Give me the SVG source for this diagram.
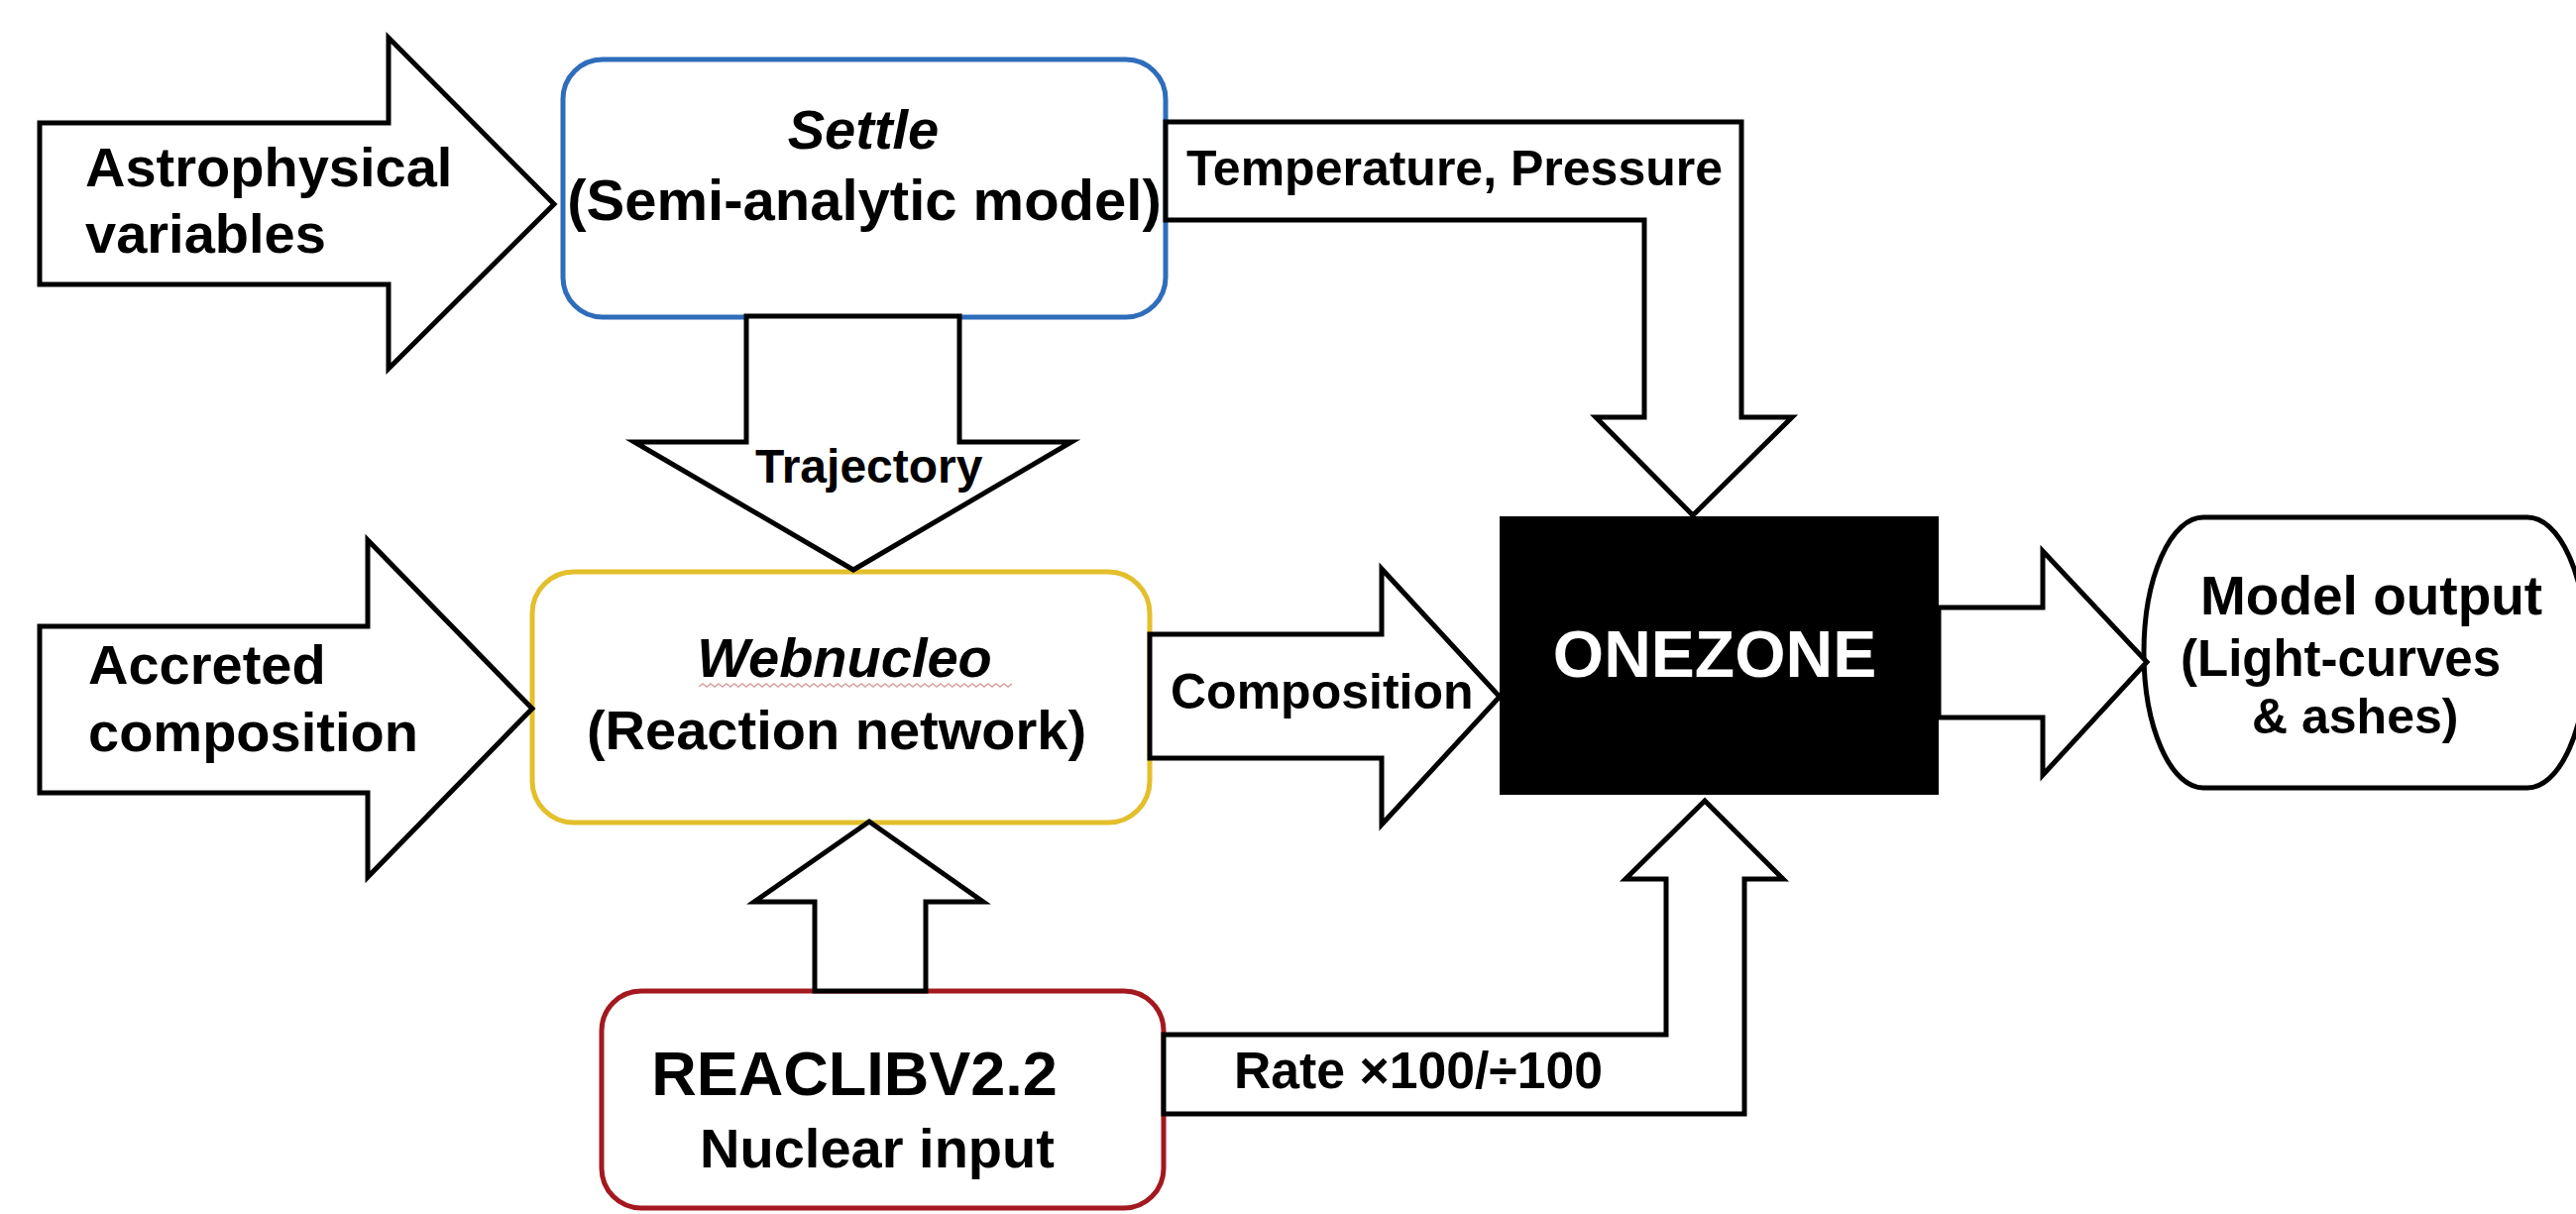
<svg xmlns="http://www.w3.org/2000/svg" width="2599" height="1225" viewBox="0 0 2599 1225">
<style>
.t{font-family:"Liberation Sans",Arial,sans-serif;font-weight:bold;fill:#000}
.c{text-anchor:middle}
.i{font-style:italic}
.arr{fill:#fff;stroke:#000;stroke-width:5;stroke-linejoin:miter}
.box{fill:#fff;stroke-width:5}
</style>
<rect width="2599" height="1225" fill="#fff"/>
<g id="settle">
<rect class="box" x="568" y="60" width="608" height="260" rx="40" stroke="#2f6dbb"/>
<text class="t c i" x="871" y="150" font-size="56">Settle</text>
<text class="t c" x="872" y="222" font-size="58">(Semi-analytic model)</text>
</g>
<g id="webnucleo">
<rect class="box" x="537" y="577" width="623" height="253" rx="42" stroke="#e3bf2c"/>
<text class="t c i" x="852" y="683" font-size="56">Webnucleo</text>
<path d="M705,693 l4,-3 l4,3 l4,-3 l4,3 l4,-3 l4,3 l4,-3 l4,3 l4,-3 l4,3 l4,-3 l4,3 l4,-3 l4,3 l4,-3 l4,3 l4,-3 l4,3 l4,-3 l4,3 l4,-3 l4,3 l4,-3 l4,3 l4,-3 l4,3 l4,-3 l4,3 l4,-3 l4,3 l4,-3 l4,3 l4,-3 l4,3 l4,-3 l4,3 l4,-3 l4,3 l4,-3 l4,3 l4,-3 l4,3 l4,-3 l4,3 l4,-3 l4,3 l4,-3 l4,3 l4,-3 l4,3 l4,-3 l4,3 l4,-3 l4,3 l4,-3 l4,3 l4,-3 l4,3 l4,-3 l4,3 l4,-3 l4,3 l4,-3 l4,3 l4,-3 l4,3 l4,-3 l4,3 l4,-3 l4,3 l4,-3 l4,3 l4,-3 l4,3 l4,-3 l4,3 l4,-3 l4,3 l4,-3" fill="none" stroke="#d9a0a0" stroke-width="1.5"/>
<text class="t c" x="844" y="756" font-size="56">(Reaction network)</text>
</g>
<g id="reaclib">
<rect class="box" x="607" y="1000" width="567" height="219" rx="40" stroke="#a3191f"/>
<text class="t c" x="862" y="1105" font-size="63">REACLIBV2.2</text>
<text class="t c" x="885" y="1178" font-size="56">Nuclear input</text>
</g>
<g id="onezone">
<rect x="1513" y="521" width="443" height="281" fill="#000"/>
<text class="t c" x="1730" y="683" font-size="66" style="fill:#fff">ONEZONE</text>
</g>
<g id="model-output">
<path d="M2223,522 H2550 A60,136.5 0 0 1 2550,795 H2223 A60,136.5 0 0 1 2223,522 Z" fill="#fff" stroke="#000" stroke-width="5"/>
<text class="t" x="2220" y="620" font-size="55">Model output</text>
<text class="t" x="2200" y="682" font-size="51">(Light-curves</text>
<text class="t" x="2272" y="740" font-size="50">&amp; ashes)</text>
</g>
<g id="connectors">
<g id="astro-in">
<path class="arr" d="M40,124 H392 V38 L559,206 L392,372 V287 H40 Z"/>
<text class="t" x="86" y="188" font-size="56">Astrophysical</text>
<text class="t" x="86" y="255" font-size="56">variables</text>
</g>
<g id="accreted-in">
<path class="arr" d="M40,632 H371 V545 L537,715 L371,885 V800 H40 Z"/>
<text class="t" x="89" y="690" font-size="56">Accreted</text>
<text class="t" x="89" y="758" font-size="56">composition</text>
</g>
<g id="settle-onezone">
<path class="arr" d="M1176,123 H1757 V421 H1808 L1708,520 L1610,421 H1659 V222 H1176 Z"/>
<text class="t" x="1197" y="187" font-size="50">Temperature, Pressure</text>
</g>
<g id="settle-webnucleo">
<path class="arr" d="M753,319 H968 V446 H1081 L861,575 L640,446 H753 Z"/>
<text class="t" x="762" y="487" font-size="48">Trajectory</text>
</g>
<g id="webnucleo-onezone">
<path class="arr" d="M1160,640 H1394 V574 L1513,703 L1394,832 V765 H1160 Z"/>
<text class="t" x="1181" y="715" font-size="50">Composition</text>
</g>
<g id="onezone-output">
<path class="arr" d="M1956,613 H2061 V556 L2166,668 L2061,782 V724 H1956 Z"/>
</g>
<g id="reaclib-webnucleo">
<path class="arr" d="M822,1000 V910 H761 L877,829 L992,910 H934 V1000 Z"/>
</g>
<g id="reaclib-onezone">
<path class="arr" d="M1174,1044 H1681 V887 H1640 L1720,808 L1799,887 H1760 V1124 H1174 Z"/>
<text class="t" x="1245" y="1098" font-size="51" textLength="372" lengthAdjust="spacingAndGlyphs">Rate ×100/÷100</text>
</g>
</g>
</svg>
